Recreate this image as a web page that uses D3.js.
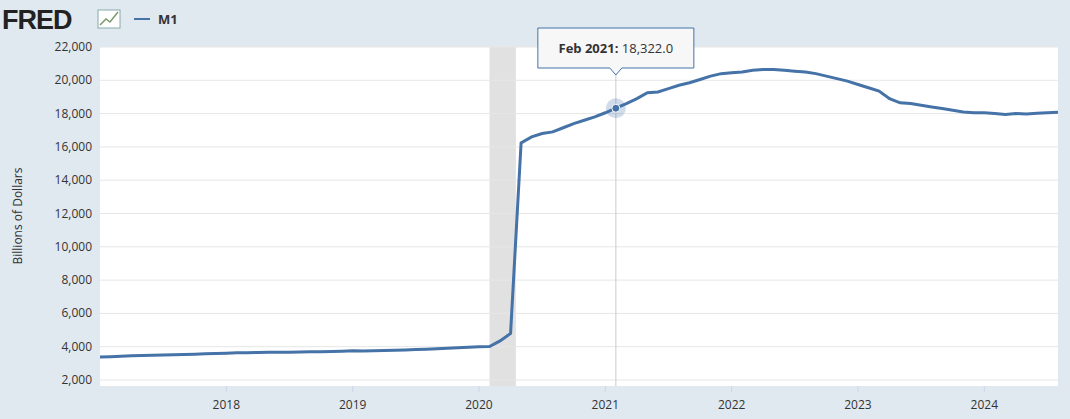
<!DOCTYPE html><html><head><meta charset="utf-8">
<script src="https://cdn.jsdelivr.net/npm/d3@7"></script>
<style>body{margin:0;background:#e1e9f0;font-family:"Open Sans",Roboto,sans-serif}</style></head><body>
<svg id="c" width="1070" height="419"></svg>
<script>
const startYear=2017;
const values=[3380,3400,3420,3450,3470,3480,3500,3520,3530,3550,3570,3590,
3610,3630,3640,3650,3660,3660,3670,3680,3690,3700,3710,3730,
3750,3740,3750,3770,3780,3800,3830,3850,3880,3910,3940,3970,
4000,4010,4350,4800,16240,16600,16800,16900,17150,17400,17600,17800,
18050,18322,18600,18900,19250,19300,19500,19700,19850,20050,20250,20400,
20450,20500,20600,20650,20650,20600,20550,20500,20400,20250,20100,19950,
19750,19550,19350,18900,18650,18600,18500,18400,18300,18200,18100,18050,
18050,18000,17950,18000,17980,18020,18050,18080];
const yTicks=[2000,4000,6000,8000,10000,12000,14000,16000,18000,20000,22000];
const xTicks=[2018,2019,2020,2021,2022,2023,2024];
const recession=[2020+1/12,2020+3.5/12];
const hoverIndex=49, hoverLabel="Feb 2021";
const data=values.map((v,i)=>({t:startYear+i/12,v}));
const svg=d3.select("#c");
const L=100,R=1058,T=47,B=386;
svg.append("rect").attr("x",L).attr("y",T).attr("width",R-L).attr("height",B-T).attr("fill","#fff");
const x=d3.scaleLinear().domain([2017,2024+7/12]).range([L,R]);
const y=d3.scaleLinear().domain([2000,22000]).range([380,T]);
svg.append("rect").attr("x",x(recession[0])).attr("y",T).attr("width",x(recession[1])-x(recession[0])).attr("height",B-T).attr("fill","#e1e1e1");
yTicks.forEach(t=>{svg.append("line").attr("x1",L).attr("x2",R).attr("y1",y(t)).attr("y2",y(t)).attr("stroke","#e6e6e6");
svg.append("text").attr("x",L-8).attr("y",y(t)+4).attr("text-anchor","end").attr("font-size",12).attr("fill","#333").text(d3.format(",")(t));});
xTicks.forEach(t=>{svg.append("line").attr("x1",x(t)).attr("x2",x(t)).attr("y1",B).attr("y2",B+6).attr("stroke","#ccd6eb");
svg.append("text").attr("x",x(t)).attr("y",B+23).attr("text-anchor","middle").attr("font-size",12).attr("fill","#333").text(t);});
svg.append("text").attr("transform","translate(22,216) rotate(-90)").attr("text-anchor","middle").attr("font-size",12).attr("fill","#333").text("Billions of Dollars");
const hp=data[hoverIndex];
svg.append("line").attr("x1",x(hp.t)).attr("x2",x(hp.t)).attr("y1",T).attr("y2",B).attr("stroke","#ccc");
svg.append("path").datum(data).attr("fill","none").attr("stroke","#4572a7").attr("stroke-width",3).attr("d",d3.line().x(d=>x(d.t)).y(d=>y(d.v)));
svg.append("circle").attr("cx",x(hp.t)).attr("cy",y(hp.v)).attr("r",10).attr("fill","#4572a7").attr("opacity",0.25);
svg.append("circle").attr("cx",x(hp.t)).attr("cy",y(hp.v)).attr("r",4).attr("fill","#4572a7").attr("stroke","#fff");
const tx=x(hp.t);
svg.append("path").attr("d",`M${tx-78},28 H${tx+78} V68 H${tx+6} L${tx},75 L${tx-6},68 H${tx-78} Z`).attr("fill","#f7f7f7").attr("stroke","#4572a7");
const tt=svg.append("text").attr("x",tx).attr("y",53).attr("text-anchor","middle").attr("font-size",13).attr("fill","#333");
tt.append("tspan").attr("font-weight","bold").text(hoverLabel+": ");
tt.append("tspan").text(d3.format(",.1f")(hp.v));
svg.append("text").attr("x",2).attr("y",29).attr("font-size",27).attr("font-weight","900").attr("font-family","Liberation Sans,Arial").attr("fill","#222").attr("letter-spacing",-1).text("FRED");
svg.append("rect").attr("x",98).attr("y",10).attr("width",22).attr("height",18).attr("fill","#fff").attr("stroke","#8aa");
svg.append("polyline").attr("points","100,25 106,19 110,22 118,12").attr("fill","none").attr("stroke","#7a9a6a").attr("stroke-width",1.5);
svg.append("line").attr("x1",134).attr("x2",150).attr("y1",19).attr("y2",19).attr("stroke","#4572a7").attr("stroke-width",2);
svg.append("text").attr("x",158).attr("y",24).attr("font-size",13).attr("font-weight","bold").attr("fill","#333").text("M1");
</script></body></html>
